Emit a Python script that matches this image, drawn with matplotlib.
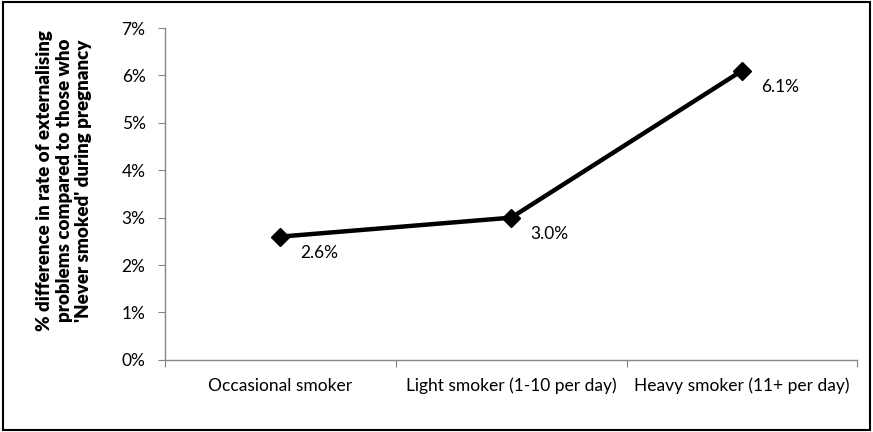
import matplotlib
matplotlib.use("Agg")
import matplotlib.pyplot as plt
from matplotlib.ticker import FuncFormatter, FixedLocator, NullFormatter
from matplotlib.patches import Rectangle

categories = ["Occasional smoker", "Light smoker (1-10 per day)", "Heavy smoker (11+ per day)"]
values = [2.6, 3.0, 6.1]
labels = ["2.6%", "3.0%", "6.1%"]
yticks = [0, 1, 2, 3, 4, 5, 6, 7]
ylabel = "% difference in rate of externalising\nproblems compared to those who\n'Never smoked' during pregnancy"

plt.rcParams['font.family'] = ['Lato', 'DejaVu Sans']
FS = 12.5

fig = plt.figure(figsize=(8.73, 4.32), dpi=100)
ax = fig.add_axes([0.189, 0.167, 0.793, 0.768])

x = list(range(len(categories)))
ax.plot(x, values, color='black', linewidth=3.2, marker='D', markersize=9, zorder=3)
for xi, v, lab in zip(x, values, labels):
    ax.annotate(lab, (xi, v), xytext=(14, -12), textcoords='offset points',
                ha='left', va='center', fontsize=FS)

ax.set_xlim(-0.5, len(categories) - 0.5)
ax.set_ylim(0, 7)
ax.set_yticks(yticks)
ax.yaxis.set_major_formatter(FuncFormatter(lambda v, p: f"{int(v)}%"))
ax.xaxis.set_major_locator(FixedLocator([i - 0.5 for i in range(len(categories) + 1)]))
ax.xaxis.set_major_formatter(NullFormatter())
ax.xaxis.set_minor_locator(FixedLocator(x))
ax.set_xticklabels(categories, minor=True)
ax.tick_params(axis='x', which='minor', length=0, labelsize=FS, pad=13)
ax.tick_params(axis='x', which='major', length=5, color='#868686', direction='out')
ax.tick_params(axis='y', length=5, color='#868686', labelsize=FS, direction='out', pad=9)

for s in ['top', 'right']:
    ax.spines[s].set_visible(False)
for s in ['left', 'bottom']:
    ax.spines[s].set_color('#868686')
    ax.spines[s].set_linewidth(1.0)

ax.set_ylabel(ylabel, fontsize=13.5, fontweight='heavy', linespacing=1.2)
ax.yaxis.set_label_coords(-0.105, 0.54)

fig.patches.append(Rectangle((0.003, 0.005), 0.994, 0.99, transform=fig.transFigure,
                             fill=False, edgecolor='black', linewidth=1.5))

fig.savefig("out.png", dpi=100)
